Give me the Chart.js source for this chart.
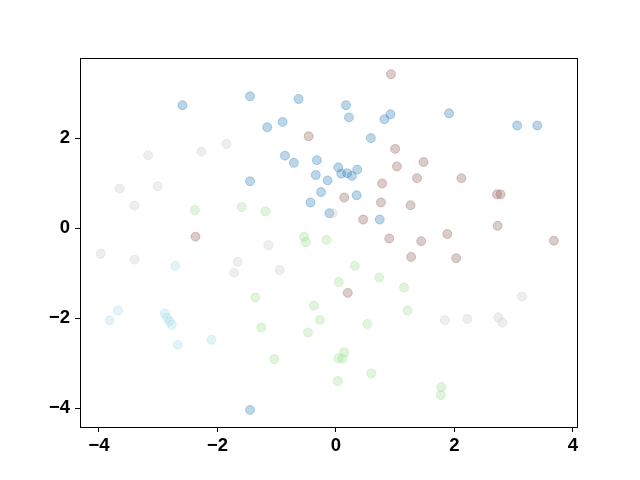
<!DOCTYPE html>
<html>
<head>
<meta charset="utf-8">
<script src="https://cdn.jsdelivr.net/npm/chart.js@4/dist/chart.umd.min.js"></script>
<style>
  html, body { margin: 0; padding: 0; background: #fff; }
  #wrap { width: 640px; height: 480px; }
</style>
</head>
<body>
<div id="wrap"><canvas id="plot" width="640" height="480"></canvas></div>
<script>
'use strict';

// point groups
const blueX = [-2.59, -1.45, -0.63, 0.17, 0.22, 0.92, 0.82, -1.16, -0.90, 0.59, -0.86, -0.71, -0.32, 0.04, 0.36,
  0.09, 0.19, 0.27, -0.34, -0.14, -1.45, 1.91, 3.06, 3.40, -0.25, 0.35, -0.43, -0.11, 0.74, -1.45];
const blueY = [2.73, 2.93, 2.87, 2.73, 2.46, 2.53, 2.42, 2.24, 2.36, 2.00, 1.61, 1.45, 1.51, 1.35, 1.30,
  1.21, 1.22, 1.16, 1.18, 1.06, 1.04, 2.55, 2.28, 2.28, 0.80, 0.73, 0.57, 0.33, 0.19, -4.04];

const brownX = [0.93, -0.46, 1.00, 1.03, 0.78, 1.48, 1.37, 2.12, -2.37, 0.14, 0.76, 1.26, 0.46, 0.90, 1.27,
  0.20, 2.72, 2.78, 2.73, 1.88, 1.44, 3.68, 2.03];
const brownY = [3.42, 2.04, 1.76, 1.37, 0.99, 1.47, 1.11, 1.11, -0.19, 0.68, 0.57, 0.51, 0.19, -0.23, -0.64,
  -1.44, 0.75, 0.75, 0.05, -0.13, -0.29, -0.28, -0.67];

const grayX = [-3.17, -2.27, -1.85, -3.65, -3.01, -3.40, -3.97, -3.40, -1.66, -1.72, -0.05, -1.14, -0.95,
  3.14, 1.84, 2.22, 2.74, 2.81];
const grayY = [1.62, 1.70, 1.87, 0.88, 0.93, 0.50, -0.57, -0.70, -0.75, -0.99, 0.33, -0.38, -0.93,
  -1.52, -2.05, -2.02, -1.98, -2.10];

const greenX = [-2.38, -1.59, -1.19, -0.54, -0.51, -0.16, 0.32, 0.73, 0.05, 1.15, -1.36, -0.37, 1.21,
  -1.26, -0.27, -0.47, 0.53, -1.04, 0.14, 0.04, 0.11, 0.60, 0.03, 1.78, 1.77];
const greenY = [0.40, 0.47, 0.37, -0.19, -0.31, -0.26, -0.84, -1.10, -1.20, -1.32, -1.54, -1.72, -1.83,
  -2.21, -2.04, -2.32, -2.13, -2.91, -2.76, -2.89, -2.90, -3.23, -3.40, -3.53, -3.71];

const cyanX = [-2.71, -3.68, -3.82, -2.89, -2.85, -2.81, -2.77, -2.67, -2.10];
const cyanY = [-0.84, -1.83, -2.05, -1.90, -1.99, -2.07, -2.15, -2.59, -2.48];

const tickFont = { family: '"Liberation Sans", Arial, sans-serif', size: 18.5, weight: 'bold' };

function toPoints(xs, ys) {
  return xs.map((x, i) => ({ x: x, y: ys[i] }));
}

function group(xs, ys, rgb) {
  const c = 'rgba(' + rgb + ',0.3)';
  return {
    data: toPoints(xs, ys),
    backgroundColor: c,
    borderColor: c,
    borderWidth: 1,
    pointRadius: 4.5,
    pointHoverRadius: 4.5
  };
}

const frame = {
  id: 'frame',
  afterDraw(chart) {
    const a = chart.chartArea;
    const ctx = chart.ctx;
    ctx.save();
    ctx.strokeStyle = '#000';
    ctx.lineWidth = 1;
    ctx.strokeRect(a.left + 0.5, a.top + 0.5, a.right - a.left, a.bottom - a.top);
    ctx.restore();
  }
};

new Chart(document.getElementById('plot').getContext('2d'), {
  type: 'scatter',
  data: {
    datasets: [
      group(grayX, grayY, '199,199,199'),
      group(cyanX, cyanY, '158,218,229'),
      group(greenX, greenY, '152,223,138'),
      group(brownX, brownY, '140,86,75'),
      group(blueX, blueY, '31,119,180')
    ]
  },
  options: {
    responsive: false,
    animation: false,
    layout: { padding: { top: 58, right: 63, left: 0, bottom: 0 } },
    plugins: { legend: { display: false }, tooltip: { enabled: false } },
    scales: {
      x: {
        type: 'linear',
        min: -4.32,
        max: 4.07,
        afterFit(s) { s.height = 53; },
        ticks: { stepSize: 2, includeBounds: false, color: '#000', font: tickFont, padding: 3,
          callback: v => String(v).replace('-', '\u2212') },
        grid: { drawOnChartArea: false, drawTicks: true, tickLength: 5, color: '#000' },
        border: { display: true, color: '#000' }
      },
      y: {
        type: 'linear',
        min: -4.42,
        max: 3.78,
        afterFit(s) { s.width = 80; },
        ticks: { stepSize: 2, includeBounds: false, color: '#000', font: tickFont, padding: 5,
          callback: v => String(v).replace('-', '\u2212') },
        grid: { drawOnChartArea: false, drawTicks: true, tickLength: 5, color: '#000' },
        border: { display: true, color: '#000' }
      }
    }
  },
  plugins: [frame]
});
</script>
</body>
</html>
